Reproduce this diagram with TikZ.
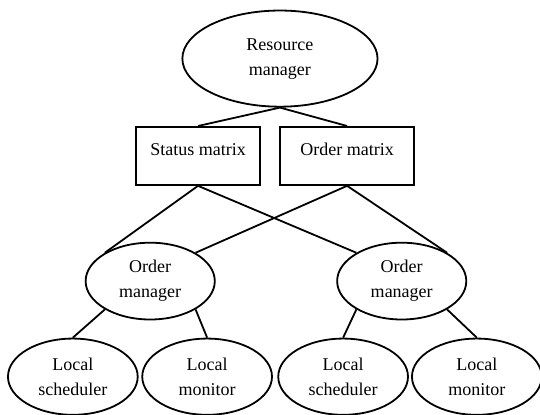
\documentclass[tikz,border=0pt]{standalone}
\usepackage{fontspec}
\setmainfont{Liberation Serif}
\usetikzlibrary{shapes.geometric, positioning}

\begin{document}
\begin{tikzpicture}[
  every node/.style={font=\fontsize{9}{12.5}\selectfont, align=center, inner sep=0pt},
  ovalnode/.style={draw, ellipse, line width=0.9pt},
  boxnode/.style={draw, rectangle, line width=0.9pt, minimum height=1.02cm, text height=6.5pt, text depth=6.5pt},
  leafnode/.style={ovalnode, minimum width=2.28cm, minimum height=1.34cm},
  link/.style={line width=0.9pt}
]
  \useasboundingbox (0,0) rectangle (9.49,7.29);

  % Resource manager
  \node[ovalnode, minimum width=3.43cm, minimum height=1.69cm] (resmgr) at (4.92, 6.26) {Resource\\manager};

  % Matrices
  \node[boxnode, minimum width=2.18cm] (statmat) at (3.48, 4.55) {Status matrix};
  \node[boxnode, minimum width=2.35cm] (ordmat) at (6.10, 4.55) {Order matrix};

  % Order managers
  \node[ovalnode, minimum width=2.27cm, minimum height=1.35cm] (ordmgrA) at (2.64, 2.35) {Order\\manager};
  \node[ovalnode, minimum width=2.27cm, minimum height=1.35cm] (ordmgrB) at (7.06, 2.35) {Order\\manager};

  % Local nodes
  \node[leafnode] (schedA) at (1.28, 0.67) {Local\\scheduler};
  \node[leafnode] (monA) at (3.64, 0.67) {Local\\monitor};
  \node[leafnode] (schedB) at (6.03, 0.67) {Local\\scheduler};
  \node[leafnode] (monB) at (8.38, 0.67) {Local\\monitor};

  % Links
  \draw[link] (resmgr.south) -- (statmat.north);
  \draw[link] (resmgr.south) -- (ordmat.north);
  \draw[link] (statmat.south) -- (ordmgrA.148);
  \draw[link] (statmat.south) -- (ordmgrB.148);
  \draw[link] (ordmat.south) -- (ordmgrA.32);
  \draw[link] (ordmat.south) -- (ordmgrB.32);
  \draw[link] (ordmgrA.212) -- (schedA.north);
  \draw[link] (ordmgrA.328) -- (monA.north);
  \draw[link] (ordmgrB.212) -- (schedB.north);
  \draw[link] (ordmgrB.328) -- (monB.north);
\end{tikzpicture}
\end{document}
